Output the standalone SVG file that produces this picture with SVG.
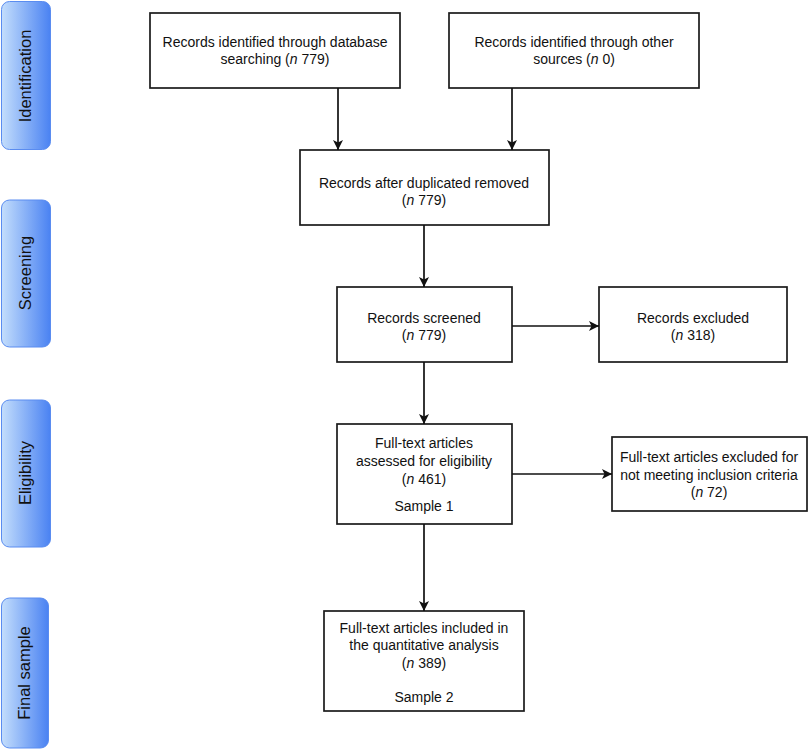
<svg xmlns="http://www.w3.org/2000/svg" width="812" height="750" viewBox="0 0 812 750">
<style>
.box{fill:#fff;stroke:#1a1a1a;stroke-width:1.7}
.t{font-family:"Liberation Sans",Arial,sans-serif;font-size:14px;fill:#111;text-anchor:middle}
.side{fill:url(#g);stroke:#5a8cf0;stroke-width:1}
.st{font-family:"Liberation Sans",Arial,sans-serif;font-size:16.5px;fill:#111;text-anchor:middle}
.c{stroke:#111;stroke-width:1.7;fill:none;marker-end:url(#a)}
</style>
<defs>
<linearGradient id="g" x1="0" y1="0" x2="1" y2="0">
<stop offset="0" stop-color="#c4defc"/>
<stop offset="1" stop-color="#4a82f2"/>
</linearGradient>
<marker id="a" viewBox="0 0 10 10" refX="10" refY="5" markerWidth="11" markerHeight="10" orient="auto" markerUnits="userSpaceOnUse">
<path d="M0,0 L10,5 L0,10 L2.5,5 z" fill="#111"/>
</marker>
</defs>
<g id="side-identification"><rect class="side" x="1.5" y="1.5" width="49" height="148" rx="8"/><text class="st" transform="translate(31,76) rotate(-90)">Identification</text></g>
<g id="side-screening"><rect class="side" x="1.5" y="200" width="49" height="147" rx="8"/><text class="st" transform="translate(31,273) rotate(-90)">Screening</text></g>
<g id="side-eligibility"><rect class="side" x="1.5" y="400" width="49" height="147" rx="8"/><text class="st" transform="translate(31,473) rotate(-90)">Eligibility</text></g>
<g id="side-final"><rect class="side" x="1.5" y="598" width="47" height="150" rx="8"/><text class="st" transform="translate(30,673) rotate(-90)">Final sample</text></g>

<g id="n1"><rect class="box" x="150" y="13" width="250" height="75"/><text class="t" x="275" y="47">Records identified through database</text><text class="t" x="275" y="64">searching (<tspan font-style="italic">n</tspan> 779)</text></g>
<g id="n2"><rect class="box" x="449" y="13" width="250" height="75"/><text class="t" x="574" y="47">Records identified through other</text><text class="t" x="574" y="64">sources (<tspan font-style="italic">n</tspan> 0)</text></g>
<g id="n3"><rect class="box" x="300" y="150" width="249" height="75"/><text class="t" x="424" y="188">Records after duplicated removed</text><text class="t" x="424" y="205">(<tspan font-style="italic">n</tspan> 779)</text></g>
<g id="n4"><rect class="box" x="337" y="287" width="175" height="75"/><text class="t" x="424" y="323">Records screened</text><text class="t" x="424" y="340">(<tspan font-style="italic">n</tspan> 779)</text></g>
<g id="n5"><rect class="box" x="599" y="287" width="188" height="75"/><text class="t" x="693" y="323">Records excluded</text><text class="t" x="693" y="340">(<tspan font-style="italic">n</tspan> 318)</text></g>
<g id="n6"><rect class="box" x="337" y="424" width="175" height="100"/><text class="t" x="424" y="448">Full-text articles</text><text class="t" x="424" y="466">assessed for eligibility</text><text class="t" x="424" y="484">(<tspan font-style="italic">n</tspan> 461)</text><text class="t" x="424" y="511">Sample 1</text></g>
<g id="n7"><rect class="box" x="612" y="437" width="195" height="74"/><text class="t" x="709" y="462">Full-text articles excluded for</text><text class="t" x="709" y="480">not meeting inclusion criteria</text><text class="t" x="709" y="497">(<tspan font-style="italic">n</tspan> 72)</text></g>
<g id="n8"><rect class="box" x="324" y="611" width="200" height="100"/><text class="t" x="424" y="633">Full-text articles included in</text><text class="t" x="424" y="650">the quantitative analysis</text><text class="t" x="424" y="668">(<tspan font-style="italic">n</tspan> 389)</text><text class="t" x="424" y="702">Sample 2</text></g>

<g id="connectors">
<line class="c" x1="338" y1="88" x2="338" y2="150"/>
<line class="c" x1="512" y1="88" x2="512" y2="150"/>
<line class="c" x1="424" y1="225" x2="424" y2="287"/>
<line class="c" x1="512" y1="326" x2="599" y2="326"/>
<line class="c" x1="424" y1="362" x2="424" y2="424"/>
<line class="c" x1="512" y1="474" x2="612" y2="474"/>
<line class="c" x1="424" y1="524" x2="424" y2="611"/>
</g>
</svg>
